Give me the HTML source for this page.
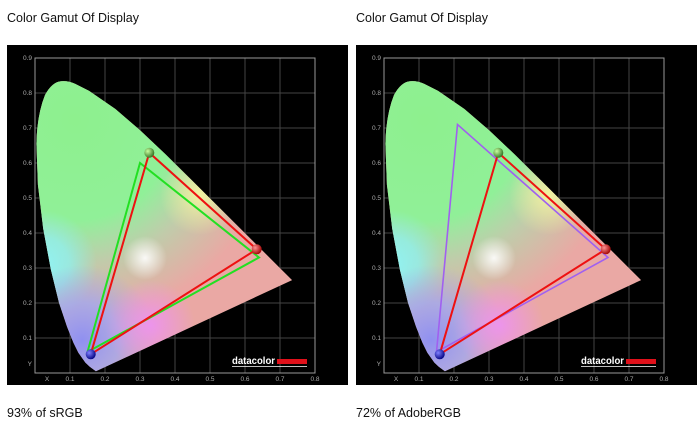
<!DOCTYPE html>
<html><head><meta charset="utf-8"><style>
html,body{margin:0;padding:0;background:#fff;width:700px;height:423px;overflow:hidden}
svg{display:block;font-family:"Liberation Sans",Arial,sans-serif}
</style></head><body>
<svg width="700" height="423" viewBox="0 0 700 423">
<defs>
<clipPath id="hs"><path d="M95.9,371.3 L89.8,366.8 L85.4,362.6 L78.4,352.8 L73.4,342.6 L67,326.6 L59,302.8 L50.9,269.8 L43.2,228.6 L37.9,184.6 L36.4,143.8 Q37,115 45,95 Q52,82 61,81.2 Q68,80.5 75,83.8 L89.1,90.9 L115.4,109 L140.6,130.7 L165.6,154.4 L190.4,178.9 L214.4,202.7 L236.3,224.5 L254.5,242.6 L277,265.1 L286.7,274.7 L292.1,280.1 Z"/></clipPath>
<radialGradient id="gG" cx="75" cy="120" r="200" gradientUnits="userSpaceOnUse"><stop offset="0" stop-color="#8ef08e"/><stop offset="0.5" stop-color="#90f098"/><stop offset="0.72" stop-color="#98eeb0" stop-opacity="0.5"/><stop offset="1" stop-color="#98eeb0" stop-opacity="0"/></radialGradient>
<radialGradient id="gC" cx="42" cy="265" r="55" gradientUnits="userSpaceOnUse"><stop offset="0" stop-color="#90f4f4"/><stop offset="0.5" stop-color="#90f0ec" stop-opacity="0.8"/><stop offset="1" stop-color="#90f0e0" stop-opacity="0"/></radialGradient>
<radialGradient id="gB" cx="82" cy="340" r="75" gradientUnits="userSpaceOnUse"><stop offset="0" stop-color="#9090f0"/><stop offset="0.5" stop-color="#a0a8f0" stop-opacity="0.8"/><stop offset="1" stop-color="#a0a8f0" stop-opacity="0"/></radialGradient>
<radialGradient id="gM" cx="150" cy="325" r="45" gradientUnits="userSpaceOnUse"><stop offset="0" stop-color="#ec94ec"/><stop offset="1" stop-color="#ec94ec" stop-opacity="0"/></radialGradient>
<radialGradient id="gY" cx="200" cy="195" r="40" gradientUnits="userSpaceOnUse"><stop offset="0" stop-color="#f2f2a0"/><stop offset="1" stop-color="#f2f2a0" stop-opacity="0"/></radialGradient>
<radialGradient id="gW" cx="145" cy="258" r="22" gradientUnits="userSpaceOnUse"><stop offset="0" stop-color="#ffffff" stop-opacity="0.9"/><stop offset="1" stop-color="#ffffff" stop-opacity="0"/></radialGradient>
<radialGradient id="bR" cx="0.35" cy="0.35" r="0.7"><stop offset="0" stop-color="#ff9090"/><stop offset="1" stop-color="#a00000"/></radialGradient>
<radialGradient id="bG" cx="0.35" cy="0.35" r="0.7"><stop offset="0" stop-color="#c8ffa0"/><stop offset="1" stop-color="#307020"/></radialGradient>
<radialGradient id="bB" cx="0.35" cy="0.35" r="0.7"><stop offset="0" stop-color="#8080ff"/><stop offset="1" stop-color="#000080"/></radialGradient>
<g id="chart">
<rect x="7" y="45" width="341" height="340" fill="#000"/>
<g stroke="#444" stroke-width="1">
<line x1="70" y1="58" x2="70" y2="373"/><line x1="105" y1="58" x2="105" y2="373"/><line x1="140" y1="58" x2="140" y2="373"/><line x1="175" y1="58" x2="175" y2="373"/><line x1="210" y1="58" x2="210" y2="373"/><line x1="245" y1="58" x2="245" y2="373"/><line x1="280" y1="58" x2="280" y2="373"/>
<line x1="35" y1="338" x2="315" y2="338"/><line x1="35" y1="303" x2="315" y2="303"/><line x1="35" y1="268" x2="315" y2="268"/><line x1="35" y1="233" x2="315" y2="233"/><line x1="35" y1="198" x2="315" y2="198"/><line x1="35" y1="163" x2="315" y2="163"/><line x1="35" y1="128" x2="315" y2="128"/><line x1="35" y1="93" x2="315" y2="93"/>
</g>
<rect x="35" y="58" width="280" height="315" fill="none" stroke="#999" stroke-width="1"/>
<g clip-path="url(#hs)">
<rect x="30" y="75" width="270" height="300" fill="#eaa8a4"/>
<rect x="30" y="75" width="270" height="300" fill="url(#gG)"/>
<rect x="30" y="75" width="270" height="300" fill="url(#gC)"/>
<rect x="30" y="75" width="270" height="300" fill="url(#gB)"/>
<rect x="30" y="75" width="270" height="300" fill="url(#gM)"/>
<rect x="30" y="75" width="270" height="300" fill="url(#gY)"/>
<rect x="30" y="75" width="270" height="300" fill="url(#gW)"/>
</g>
<g fill="#aaa" font-size="6.5" text-anchor="end">
<text x="32" y="60">0.9</text><text x="32" y="95">0.8</text><text x="32" y="130">0.7</text><text x="32" y="165">0.6</text><text x="32" y="200">0.5</text><text x="32" y="235">0.4</text><text x="32" y="270">0.3</text><text x="32" y="305">0.2</text><text x="32" y="340">0.1</text><text x="32" y="366">Y</text>
</g>
<g fill="#aaa" font-size="6.5" text-anchor="middle">
<text x="47" y="381">X</text><text x="70" y="381">0.1</text><text x="105" y="381">0.2</text><text x="140" y="381">0.3</text><text x="175" y="381">0.4</text><text x="210" y="381">0.5</text><text x="245" y="381">0.6</text><text x="280" y="381">0.7</text><text x="315" y="381">0.8</text>
</g>
<text x="232" y="364" fill="#fff" font-size="10" font-weight="bold" textLength="43" lengthAdjust="spacingAndGlyphs">datacolor</text>
<rect x="277" y="359" width="30" height="5" fill="#e0101a"/>
<line x1="232" y1="366.5" x2="307" y2="366.5" stroke="#fff" stroke-width="0.8"/>
</g>
</defs>
<text x="7" y="22" font-size="12.5" fill="#111">Color Gamut Of Display</text>
<text x="356" y="22" font-size="12.5" fill="#111">Color Gamut Of Display</text>
<text x="7" y="417" font-size="12.5" fill="#111">93% of sRGB</text>
<text x="356" y="417" font-size="12.5" fill="#111">72% of AdobeRGB</text>
<use href="#chart"/>
<polygon points="259,257.5 140,163 87.5,352" fill="none" stroke="#22e022" stroke-width="2"/>
<polygon points="256.7,249.3 149.3,152.7 90.7,354.3" fill="none" stroke="#ee1111" stroke-width="2"/>
<circle cx="256.7" cy="249.3" r="5" fill="url(#bR)"/>
<circle cx="149.3" cy="152.7" r="5" fill="url(#bG)"/>
<circle cx="90.7" cy="354.3" r="5" fill="url(#bB)"/>
<g transform="translate(349,0)">
<use href="#chart"/>
<polygon points="259,257.5 108.5,124.5 87.5,352" fill="none" stroke="#a060f0" stroke-width="1.6"/>
<polygon points="256.7,249.3 149.3,152.7 90.7,354.3" fill="none" stroke="#ee1111" stroke-width="2"/>
<circle cx="256.7" cy="249.3" r="5" fill="url(#bR)"/>
<circle cx="149.3" cy="152.7" r="5" fill="url(#bG)"/>
<circle cx="90.7" cy="354.3" r="5" fill="url(#bB)"/>
</g>
</svg>
</body></html>
